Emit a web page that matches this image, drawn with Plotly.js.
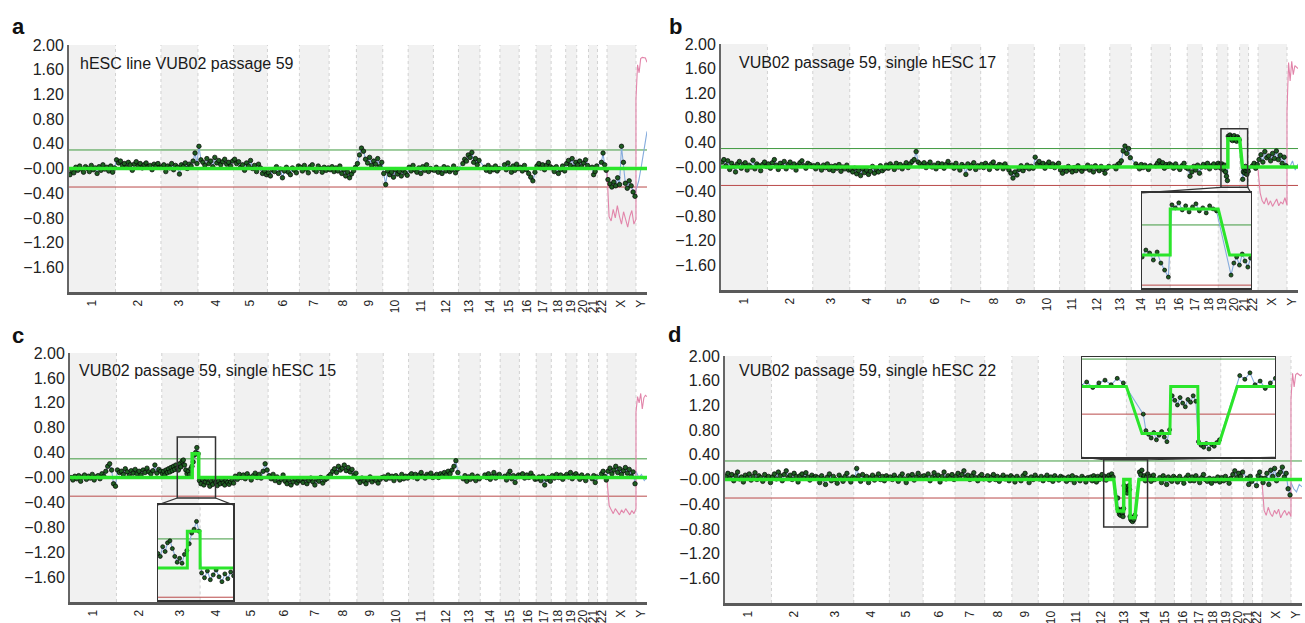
<!DOCTYPE html>
<html><head><meta charset="utf-8">
<script src="https://cdn.plot.ly/plotly-3.0.1.min.js"></script>
<style>html,body{margin:0;padding:0;background:#fff}#chart{width:1305px;height:623px}</style>
</head><body><div id="chart"></div>
<script>
// ---------- genome ----------
const chromNames = ['1','2','3','4','5','6','7','8','9','10','11','12','13','14','15','16','17','18','19','20','21','22','X','Y'];
const chromLenMb = [249,243,198,191,181,171,159,146,141,136,135,134,115,107,103,90,81,78,59,63,48,51,155,59];
const chromDataStartMb = [0,0,0,0,0,0,0,0,0,0,0,0,19,20,20,0,0,0,0,0,15,17,0,0];
const yTickVals = [2,1.6,1.2,0.8,0.4,0,-0.4,-0.8,-1.2,-1.6];
const yTickText = ['2.00','1.60','1.20','0.80','0.40','\u22120.00','\u22120.40','\u22120.80','\u22121.20','\u22121.60'];
const thresholdGain = 0.3, thresholdLoss = -0.3;

// ---------- panel a ----------
const sampleA = 'hESC line VUB02 passage 59';
const logRatioA = [
[-0.10,-0.04,-0.07,0.02,-0.03,0.04,-0.01,-0.06,0.03,0.00,-0.05,0.05,-0.02,0.01,-0.08,0.03,-0.03,0.06,-0.01,0.02,-0.04,0.04,-0.06,0.01],
[0.14,0.09,0.12,0.05,0.08,0.02,0.10,0.06,-0.03,0.07,0.11,0.04,0.08,0.01,0.06,0.09,0.03,0.05,-0.02,0.07,0.04,0.08,0.02],
[0.03,0.06,-0.05,0.04,0.01,0.08,-0.02,0.05,0.02,-0.09,0.06,0.03,0.09,0.00,0.07,0.04,0.12,0.25,0.08],
[0.36,0.14,0.10,0.05,0.16,0.08,0.12,0.03,0.18,0.09,0.13,0.06,0.11,0.15,0.07,0.10,0.04,0.12],
[0.15,0.08,0.11,0.02,0.06,-0.03,0.09,0.04,0.13,0.00,0.05,-0.05,0.07,0.01,-0.08,-0.04,-0.10],
[-0.07,-0.12,-0.02,-0.05,0.03,-0.08,-0.01,-0.15,-0.04,0.02,-0.06,-0.10,0.01,-0.03,-0.07,0.04],
[0.02,-0.04,0.05,-0.01,-0.07,0.03,0.06,-0.02,-0.05,0.04,0.00,-0.06,0.02,-0.03,0.01],
[-0.02,0.03,-0.05,0.01,-0.04,0.04,-0.08,-0.02,-0.12,-0.06,-0.15,-0.09,-0.04,0.02],
[0.08,0.22,0.33,0.28,0.15,0.09,0.18,0.05,0.12,0.07,0.16,0.03,0.10],
[-0.08,-0.26,-0.04,-0.10,-0.06,-0.14,-0.02,-0.09,-0.05,-0.12,-0.03,-0.07,-0.11],
[0.02,-0.04,0.05,-0.02,-0.06,0.01,-0.08,0.03,-0.03,0.06,-0.05,0.00,-0.02],
[-0.03,0.02,-0.06,-0.01,-0.08,0.03,-0.04,0.01,-0.05,-0.02,0.04,-0.07,-0.01],
[0.08,0.15,0.12,0.22,0.18,0.26,0.10,0.16,0.06,0.13],
[0.02,-0.03,0.05,-0.05,0.01,-0.02,0.04,-0.04,0.00],
[0.06,-0.02,0.09,0.01,-0.06,0.04,-0.03,0.07,0.00],
[0.02,-0.04,0.05,-0.02,-0.08,-0.14,-0.20,-0.06],
[0.04,0.08,0.01,0.06,-0.02,0.05,0.10,0.03],
[0.01,-0.05,0.03,-0.08,-0.02,0.04,-0.04],
[0.08,0.13,0.05,0.16,0.02,0.10],
[0.06,0.12,0.03,0.09,0.14,0.05],
[0.02,-0.10,-0.05,0.04],
[0.10,0.25,0.06,-0.03],
[-0.18,-0.25,-0.30,-0.22,-0.28,-0.15,-0.26,0.36,0.10,-0.24,-0.32,-0.20,-0.28,-0.38,-0.45]
];
const blueYA = [-0.35,-0.2,0.05,0.35,0.6];
const pinkXA = [-0.05,-0.78,-0.85,-0.66,-0.8,-0.6,-0.77,-0.9,-0.7,-0.84,-0.95,-0.78,-0.68,-0.9,-0.82];
const pinkYA = [1.12,1.68,1.55,1.78,1.8,1.8,1.79,1.72];
const segmentsA = [['1',0,'Y',59,0]];

// ---------- panel b ----------
const sampleB = 'VUB02 passage 59, single hESC 17';
const logRatioB = [
[0.08,0.12,0.02,0.10,-0.04,0.06,0.01,-0.08,0.05,0.09,-0.02,0.04,0.07,-0.05,0.03,0.00,0.11,-0.03,0.05,0.02,-0.06,0.04,0.08,0.01],
[0.05,-0.02,0.07,0.12,0.03,-0.04,0.06,0.01,0.09,-0.03,0.04,0.08,0.00,0.05,-0.05,0.03,0.07,0.10,0.02,-0.02,0.06,0.04,0.01],
[0.02,-0.03,0.04,0.00,-0.05,0.03,-0.01,0.05,-0.04,0.01,-0.06,0.02,-0.02,0.04,-0.07,0.00,-0.03,0.03,-0.05],
[-0.04,-0.08,-0.02,-0.11,-0.06,-0.14,-0.03,-0.09,-0.05,-0.12,-0.07,0.01,-0.10,-0.04,-0.08,0.02,-0.06,-0.03],
[0.03,-0.02,0.05,0.01,-0.04,0.06,0.00,0.04,-0.03,0.02,0.07,-0.01,0.05,0.09,0.12,0.25,0.08],
[0.05,0.02,0.07,-0.01,0.04,0.08,0.00,0.03,-0.03,0.06,0.01,0.05,-0.02,0.04,0.09,0.02],
[0.03,-0.02,0.06,0.00,-0.05,0.04,0.01,-0.12,0.05,-0.02,0.03,0.07,-0.04,0.02,0.00],
[0.04,-0.01,0.06,0.02,-0.04,0.05,0.08,0.01,-0.02,0.04,0.03,-0.03,0.05,0.00],
[-0.05,-0.10,-0.18,-0.08,-0.13,-0.04,0.02,-0.06,-0.01,0.03,-0.03,0.01,-0.02],
[0.16,0.05,0.09,0.02,0.06,-0.02,0.04,0.08,0.01,0.05,-0.01,0.03,0.06],
[-0.05,-0.10,-0.02,-0.07,0.01,-0.04,-0.08,-0.01,-0.06,0.02,-0.03,-0.07,-0.02],
[-0.02,0.03,-0.05,0.00,-0.08,0.02,-0.03,-0.06,0.01,-0.04,-0.10,-0.02,0.01],
[0.01,-0.03,0.04,0.06,0.10,0.26,0.34,0.22,0.30,0.15],
[0.05,0.01,-0.03,0.04,-0.01,0.03,0.00,-0.04,0.02],
[0.02,0.06,0.10,0.03,0.07,-0.02,0.04,0.01,0.05],
[0.03,-0.02,0.05,0.00,-0.04,0.02,0.06,-0.01],
[-0.03,-0.15,-0.08,0.01,-0.05,0.03,-0.10,0.00],
[0.04,0.00,0.06,-0.03,0.02,0.05,-0.01],
[0.03,0.06,0.00,0.04,-0.02,0.05,0.02,-0.05,0.03,-0.08,-0.15,-0.22],
[0.50,0.47,0.52,0.45,0.49,0.43,0.48,0.51,0.44,0.47,0.42,0.49,0.46,0.44],
[-0.20,-0.08,-0.02,-0.10,0.01,-0.06,-0.12,-0.03,-0.07],
[0.02,0.06,-0.02,0.04],
[0.12,0.20,0.08,0.25,0.15,0.18,0.10,0.22,0.14,0.26,0.12,0.19,0.06,0.16,0.02]
];
const blueYB = [0.02,0.0,0.1,-0.05,0.05];
const pinkXB = [-0.05,-0.42,-0.55,-0.6,-0.5,-0.62,-0.55,-0.64,-0.58,-0.52,-0.63,-0.57,-0.6,-0.5,-0.62];
const pinkYB = [0.9,1.7,1.4,1.72,1.5,1.65,1.62,1.6];
const segmentsB = [['1',0,'19',59,0],['20',0,'20',63,0.46],['21',15,'Y',59,0]];

// ---------- panel c ----------
const sampleC = 'VUB02 passage 59, single hESC 15';
const logRatioC = [
[0.00,-0.04,0.02,-0.02,0.03,-0.06,0.01,0.04,-0.03,0.02,-0.01,0.05,-0.04,0.01,0.03,-0.02,0.06,0.02,0.10,0.18,0.22,0.12,-0.10,-0.14],
[0.12,0.08,0.10,0.05,0.14,0.09,0.03,0.11,0.07,0.13,0.06,0.10,0.04,0.12,0.08,0.15,0.09,0.06,0.11,0.20,0.07,0.13,0.10],
[0.06,0.10,0.04,0.12,0.08,0.14,0.09,0.16,0.11,0.18,0.13,0.20,0.15,0.12,0.22,0.17,0.26,0.28,0.20,0.12,0.06,0.10,0.05,0.14,0.18,0.25,0.36,0.40,0.48,0.38],
[-0.05,-0.10,-0.03,-0.12,-0.07,-0.02,-0.09,-0.14,-0.06,-0.11,-0.04,-0.08,-0.13,-0.06,-0.10,-0.03,-0.09,-0.12,-0.05,-0.08,-0.11,-0.07,-0.04,-0.09],
[0.02,-0.03,0.05,0.00,0.04,-0.02,0.06,0.01,-0.04,0.03,0.07,0.00,0.05,-0.01,0.10,0.22,0.12],
[0.03,-0.02,0.05,-0.05,0.01,-0.08,-0.03,0.04,-0.06,-0.10,-0.04,-0.12,-0.07,-0.02,-0.09,-0.05],
[-0.04,-0.08,-0.02,-0.10,-0.05,-0.01,-0.07,-0.12,-0.03,-0.06,0.00,-0.09,-0.04,-0.02,0.02],
[0.05,0.10,0.14,0.08,0.18,0.12,0.15,0.20,0.11,0.16,0.09,0.13,0.04,0.07],
[-0.03,-0.08,-0.01,-0.06,-0.10,-0.04,0.01,-0.07,-0.02,-0.05,-0.09,-0.03,0.00],
[0.01,-0.03,0.04,-0.01,0.02,-0.05,0.03,0.00,-0.04,0.05,-0.02,0.02,-0.01],
[0.03,0.06,0.01,0.05,-0.02,0.04,0.08,0.02,-0.01,0.05,0.03,0.07,0.00],
[0.02,0.05,0.00,0.06,0.03,0.08,0.04,0.10,0.06,0.12,0.18,0.27,0.08],
[-0.02,0.03,-0.06,0.01,-0.03,0.04,-0.01,-0.05,0.02,-0.02],
[0.04,0.00,0.06,-0.03,0.02,0.08,-0.01,0.03,0.05],
[0.02,-0.04,0.05,0.10,-0.02,0.03,-0.08,0.01,0.04],
[0.03,0.06,-0.01,0.04,0.00,0.07,0.02,-0.03],
[-0.02,0.01,-0.05,0.02,-0.12,-0.03,0.00,-0.06],
[0.03,-0.01,0.05,0.00,0.04,-0.03,0.02],
[0.05,0.01,0.08,-0.02,0.04,0.06],
[0.02,-0.03,0.04,0.00,-0.05,0.03],
[-0.02,0.03,-0.08,0.01],
[0.06,0.10,0.02,-0.04],
[0.10,0.15,0.06,0.12,0.18,0.08,0.14,0.05,0.11,0.16,0.07,0.13,0.02,0.09,-0.10]
];
const blueYC = [0.1,0.0,0.05,-0.05,0.0];
const pinkXC = [-0.05,-0.45,-0.52,-0.58,-0.5,-0.55,-0.6,-0.52,-0.57,-0.5,-0.55,-0.6,-0.53,-0.58,-0.5];
const pinkYC = [1.05,1.3,1.2,1.35,1.1,1.28,1.32,1.3];
const segmentsC = [['1',0,'3',163,0],['3',163,'3',198,0.38],['4',0,'Y',59,0]];

// ---------- panel d ----------
const sampleD = 'VUB02 passage 59, single hESC 22';
const logRatioD = [
[0.05,0.10,0.02,0.08,-0.02,0.06,0.12,0.01,0.04,-0.04,0.07,0.03,0.09,-0.01,0.05,0.11,0.00,0.06,0.03,-0.03,0.08,0.02,0.05,-0.05],
[0.04,0.09,0.01,0.12,0.06,-0.02,0.08,0.14,0.03,0.07,0.00,0.10,0.05,-0.04,0.06,0.09,0.02,0.11,0.04,-0.01,0.07,0.03,0.05],
[0.03,-0.05,0.06,0.01,-0.08,0.04,0.09,-0.02,0.05,0.00,-0.06,0.07,0.02,-0.03,0.05,0.10,0.01,-0.04,0.04],
[0.02,0.18,0.06,-0.03,0.08,0.01,0.05,-0.05,0.03,0.07,-0.01,0.04,0.09,0.00,0.05,-0.02,0.06,0.02],
[0.04,0.00,0.07,0.02,-0.03,0.05,0.09,0.01,-0.05,0.06,0.03,0.08,-0.01,0.04,0.10,0.02,0.05],
[0.06,0.02,0.09,-0.02,0.04,0.11,0.03,0.07,-0.04,0.05,0.12,0.01,0.06,0.03,0.08,0.00],
[0.05,0.10,0.02,0.08,0.14,0.04,0.07,0.00,0.06,0.11,0.03,-0.02,0.05,0.08,0.01],
[0.02,0.06,-0.01,0.04,0.08,0.00,0.05,-0.03,0.03,0.07,0.01,0.04,-0.02,0.06],
[0.03,-0.04,0.05,0.01,-0.02,0.06,0.10,0.02,-0.05,0.04,0.00,0.07,0.02],
[0.01,0.05,-0.02,0.03,0.07,0.00,0.04,-0.03,0.06,0.02,-0.01,0.05,0.03],
[0.02,-0.03,0.04,0.00,0.06,-0.05,0.03,0.01,-0.02,0.05,0.02,-0.04,0.03],
[0.01,0.04,-0.02,0.06,0.02,-0.04,0.05,0.00,0.03,0.08,0.01,0.05,-0.01,0.04,0.07,0.02,0.09,0.04],
[-0.30,-0.48,-0.52,-0.56,-0.50,-0.58,-0.53,-0.49,-0.55,-0.60,-0.47,-0.10,-0.15,-0.20,-0.12,-0.18,-0.22,-0.14,-0.17,-0.10,-0.16,-0.60,-0.64,-0.66,-0.62,-0.68,-0.63,-0.65,-0.61,-0.58],
[0.12,0.08,0.15,0.02,0.06,-0.02,0.04,0.09,0.01,0.05,-0.03,0.03,0.07,0.00],
[0.03,-0.05,0.06,0.01,-0.08,0.04,0.00,-0.03,0.05],
[0.02,-0.04,0.05,0.00,-0.06,0.03,0.07,-0.02],
[0.04,-0.02,0.06,0.01,-0.05,0.03,0.08,0.00],
[-0.03,0.02,-0.06,0.01,-0.02,0.04,-0.04],
[0.03,-0.02,0.05,0.00,-0.06,0.02],
[0.08,0.14,0.03,0.10,0.05,0.12],
[0.02,-0.08,0.05,-0.03],
[-0.10,0.06,0.12,0.02],
[-0.05,0.02,0.10,-0.08,0.15,0.05,0.18,-0.02,0.08,0.12,0.20,0.04,0.10,-0.15,-0.25]
];
const blueYD = [-0.05,-0.15,-0.2,-0.08,-0.12];
const pinkXD = [-0.05,-0.5,-0.58,-0.45,-0.55,-0.6,-0.5,-0.56,-0.48,-0.62,-0.55,-0.5,-0.58,-0.52,-0.6];
const pinkYD = [1.3,1.72,1.5,1.7,1.72,1.7,1.68,1.7];
const segmentsD = [['1',0,'12',134,0],['13',19,'13',53,-0.51],['13',54,'13',87,0],['13',88,'13',113,-0.62],['14',20,'Y',59,0]];

// ---------- helpers ----------
const chromStart = []; let acc = 0;
chromLenMb.forEach(l => { chromStart.push(acc); acc += l; });
const genomeLen = acc;
const ci = c => chromNames.indexOf(c);
const gx = (c, mb) => chromStart[ci(c)] + mb;
const chromMid = chromLenMb.map((l, i) => chromStart[i] + l / 2);

function dots(vals) {
  const xs = [], ys = [];
  vals.forEach((arr, i) => {
    const s = chromDataStartMb[i], L = chromLenMb[i], n = arr.length;
    arr.forEach((v, k) => { xs.push(chromStart[i] + s + (k + 0.5) * (L - s) / n); ys.push(v); });
  });
  return {xs, ys};
}
function spread(c, vals) {
  const i = ci(c), n = vals.length;
  return vals.map((v, k) => chromStart[i] + k * chromLenMb[i] / (n - 1));
}
function segLine(segs) {
  const xs = [], ys = [];
  segs.forEach(s => { xs.push(gx(s[0], s[1]), gx(s[2], s[3])); ys.push(s[4], s[4]); });
  return {xs, ys};
}

const panels = [
  {vals: logRatioA, blueY: blueYA, pinkX: pinkXA, pinkY: pinkYA, segs: segmentsA, name: sampleA, letter: 'a'},
  {vals: logRatioB, blueY: blueYB, pinkX: pinkXB, pinkY: pinkYB, segs: segmentsB, name: sampleB, letter: 'b'},
  {vals: logRatioC, blueY: blueYC, pinkX: pinkXC, pinkY: pinkYC, segs: segmentsC, name: sampleC, letter: 'c'},
  {vals: logRatioD, blueY: blueYD, pinkX: pinkXD, pinkY: pinkYD, segs: segmentsD, name: sampleD, letter: 'd'}
];

const oddIdx = chromNames.map((c, i) => i).filter(i => i % 2 === 0);
const boundX = [], boundY = [];
chromStart.slice(1).forEach(b => { boundX.push(b, b, null); boundY.push(-2, 2, null); });

function tracesFor(p, xa, ya, inset) {
  const d = dots(p.vals);
  const bx = d.xs.concat(spread('Y', p.blueY));
  const by = d.ys.concat(p.blueY);
  const px = spread('X', p.pinkX).concat(spread('Y', p.pinkY));
  const py = p.pinkX.concat(p.pinkY);
  const sg = segLine(p.segs);
  const common = {xaxis: xa, yaxis: ya, hoverinfo: 'skip', showlegend: false};
  return [
    Object.assign({type: 'bar', x: oddIdx.map(i => chromMid[i]), y: oddIdx.map(() => 4), base: -2,
      width: oddIdx.map(i => chromLenMb[i]), marker: {color: '#f1f1f1', line: {width: 0}}}, common),
    Object.assign({type: 'scatter', mode: 'lines', x: boundX, y: boundY,
      line: {color: '#d2d2d2', width: 1, dash: 'dot'}}, common),
    Object.assign({type: 'scatter', mode: 'lines', x: [0, genomeLen], y: [thresholdGain, thresholdGain],
      line: {color: '#3f9a3f', width: 1}}, common),
    Object.assign({type: 'scatter', mode: 'lines', x: [0, genomeLen], y: [thresholdLoss, thresholdLoss],
      line: {color: '#b94a4a', width: 1}}, common),
    Object.assign({type: 'scatter', mode: 'lines', x: bx, y: by,
      line: {color: '#86acdd', width: 1.1}}, common),
    Object.assign({type: 'scatter', mode: 'lines', x: px, y: py,
      line: {color: '#e285aa', width: 1.1}}, common),
    Object.assign({type: 'scatter', mode: 'markers', x: d.xs, y: d.ys,
      marker: {size: inset ? 4 : 4.5, color: '#1f5e22', line: {color: '#050505', width: 0.7}}}, common),
    Object.assign({type: 'scatter', mode: 'lines', x: sg.xs, y: sg.ys,
      line: {color: '#2be52b', width: inset ? 3 : 3.5}}, common)
  ];
}

// ---------- layout geometry (pixels) ----------
const W = 1305, H = 623;
const boxes = [[69, 647, 45, 292], [721, 1298, 44, 290], [70, 647, 353, 602], [725, 1302, 356, 603]];
const labelPos = [[78, 63], [737, 62], [77, 370], [737, 370]];
const letterPos = [[10, 26], [667, 26], [10, 335], [666, 334]];

const layout = {
  width: W, height: H, margin: {l: 0, r: 0, t: 0, b: 0},
  paper_bgcolor: '#fff', plot_bgcolor: '#fff', hovermode: false, barmode: 'overlay',
  font: {family: 'Liberation Sans, Arial, sans-serif', color: '#1a1a1a'},
  annotations: [], shapes: []
};
let data = [];

panels.forEach((p, k) => {
  const n = k + 1, b = boxes[k];
  const xd = [b[0] / W, b[1] / W], yd = [1 - b[3] / H, 1 - b[2] / H];
  layout['xaxis' + n] = {domain: xd, range: [0, genomeLen], anchor: 'y' + n, showgrid: false, zeroline: false,
    showline: true, linecolor: '#5a5a5a', linewidth: 3, ticks: '', tickvals: chromMid, ticktext: chromNames,
    tickangle: -90, tickfont: {size: 12, color: '#222'}, fixedrange: true};
  layout['yaxis' + n] = {domain: yd, range: [-2, 2], anchor: 'x' + n, showgrid: false, zeroline: false,
    showline: true, linecolor: '#666', linewidth: 2, ticks: '', tickvals: yTickVals, ticktext: yTickText,
    tickfont: {size: 16, color: '#222'}, fixedrange: true};
  data = data.concat(tracesFor(p, 'x' + n, 'y' + n, false));
  layout.annotations.push({xref: 'paper', yref: 'paper', x: labelPos[k][0] / W, y: 1 - labelPos[k][1] / H,
    xanchor: 'left', yanchor: 'middle', text: p.name, showarrow: false, font: {size: 16, color: '#1a1a1a'}});
  layout.annotations.push({xref: 'paper', yref: 'paper', x: letterPos[k][0] / W, y: 1 - letterPos[k][1] / H,
    xanchor: 'left', yanchor: 'middle', text: '<b>' + p.letter + '</b>', showarrow: false, font: {size: 22, color: '#111'}});
});

// ---------- insets ----------
const insets = [
  {panel: 1, ax: 5, xr: [2680, 2823], yr: [-0.33, 0.62], px: [2257, 2841], py: [-1.97, -0.42], dir: 'down'},
  {panel: 2, ax: 6, xr: [575, 780], yr: [-0.33, 0.65], px: [472, 874], py: [-1.97, -0.44], dir: 'down'},
  {panel: 3, ax: 7, xr: [2030, 2265], yr: [-0.77, 0.32], px: [1914, 2948], py: [0.36, 1.98], dir: 'up'}
];
insets.forEach(ins => {
  const m = ins.panel + 1;
  const mx = layout['xaxis' + m], my = layout['yaxis' + m];
  const mapX = v => mx.domain[0] + (v - mx.range[0]) / (mx.range[1] - mx.range[0]) * (mx.domain[1] - mx.domain[0]);
  const mapY = v => my.domain[0] + (v - my.range[0]) / (my.range[1] - my.range[0]) * (my.domain[1] - my.domain[0]);
  layout['xaxis' + ins.ax] = {domain: [mapX(ins.px[0]), mapX(ins.px[1])], range: ins.xr, anchor: 'y' + ins.ax,
    showgrid: false, zeroline: false, showticklabels: false, ticks: '', showline: true, mirror: true,
    linecolor: '#333', linewidth: 1.5, fixedrange: true};
  layout['yaxis' + ins.ax] = {domain: [mapY(ins.py[0]), mapY(ins.py[1])], range: ins.yr, anchor: 'x' + ins.ax,
    showgrid: false, zeroline: false, showticklabels: false, ticks: '', showline: true, mirror: true,
    linecolor: '#333', linewidth: 1.5, fixedrange: true};
  data = data.concat(tracesFor(panels[ins.panel], 'x' + ins.ax, 'y' + ins.ax, true));
  const xr = 'x' + m, yr = 'y' + m;
  layout.shapes.push({type: 'rect', xref: xr, yref: yr, x0: ins.xr[0], x1: ins.xr[1], y0: ins.yr[0], y1: ins.yr[1],
    line: {color: '#333', width: 1.5}, layer: 'above'});
  const yb = ins.dir === 'down' ? ins.yr[0] : ins.yr[1];
  const yi = ins.dir === 'down' ? ins.py[1] : ins.py[0];
  layout.shapes.push({type: 'line', xref: xr, yref: yr, x0: ins.xr[0], y0: yb, x1: ins.px[0], y1: yi,
    line: {color: '#333', width: 1.2}, layer: 'above'});
  layout.shapes.push({type: 'line', xref: xr, yref: yr, x0: ins.xr[1], y0: yb, x1: ins.px[1], y1: yi,
    line: {color: '#333', width: 1.2}, layer: 'above'});
});

Plotly.newPlot('chart', data, layout, {displayModeBar: false, staticPlot: true});
</script></body></html>
